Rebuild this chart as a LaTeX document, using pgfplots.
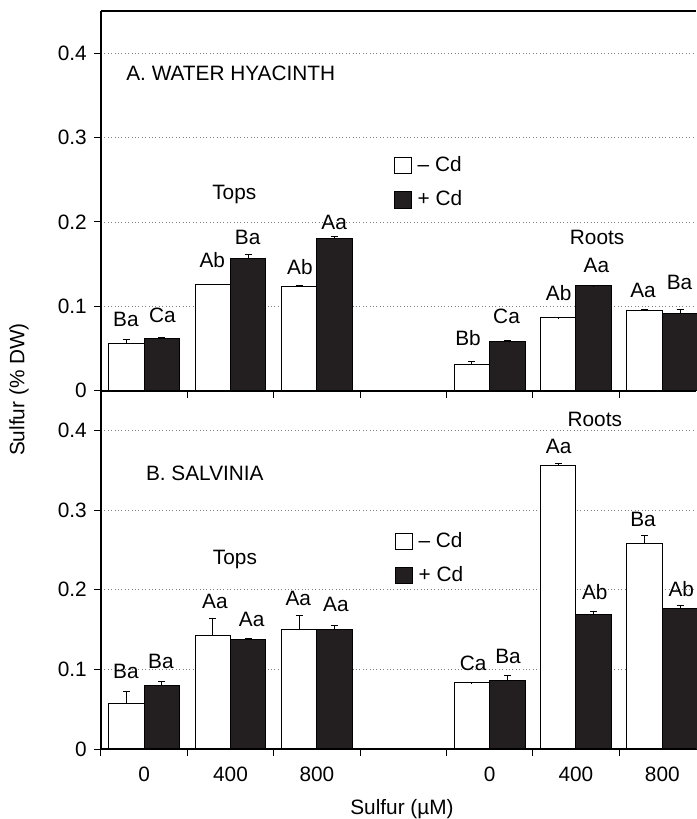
\documentclass[border=0pt]{standalone}
\usepackage{fontspec}
\setmainfont{Liberation Sans}
\usepackage{pgfplots}
\pgfplotsset{compat=1.18}
\definecolor{barblack}{HTML}{231F20}
\tikzset{lbl/.style={inner sep=0pt}}
\begin{document}
\fontsize{10.4}{12.5}\selectfont
\begin{tikzpicture}[font=\fontsize{10.4}{12.5}\selectfont]
\pgfplotsset{
 panel/.style={
  scale only axis, width=297.5pt,
  xmin=0, xmax=6.89, ymin=0, ymax=0.45,
  clip=false, axis line style={draw=none},
  tick align=outside, xtick pos=left, ytick pos=left,
  major tick length=3.5pt, tick style={black, line width=0.5pt},
  xtick={0,1,2,3,4,5,6}, xticklabels={},
  ytick={0,0.1,0.2,0.3,0.4},
  /pgf/number format/fixed, /pgf/number format/assume math mode=true,
  ymajorgrids, grid style={gray, line width=0.4pt, dash pattern=on 0.5pt off 1.2pt},
  legend style={draw=none, fill=none, inner sep=0pt, row sep=5pt,
     nodes={inner sep=1.5pt},
     /tikz/every odd column/.append style={column sep=1.5pt}},
  legend cell align=left,
 },
 wbar/.style={ybar, bar width=0.41, bar shift=0pt, fill=white, draw=black, line width=0.5pt, forget plot,
   error bars/.cd, y dir=plus, y explicit, error bar style={line width=0.5pt, black, solid},
   error mark options={rotate=90, mark size=1.75pt, line width=0.5pt, black}},
 bbar/.style={ybar, bar width=0.41, bar shift=0pt, fill=barblack, draw=black, line width=0.5pt, forget plot,
   error bars/.cd, y dir=plus, y explicit, error bar style={line width=0.5pt, black, solid},
   error mark options={rotate=90, mark size=1.75pt, line width=0.5pt, black}},
 wleg/.style={legend image code/.code={\draw[fill=white,draw=black,line width=0.5pt] (0pt,-4.15pt) rectangle (8.3pt,4.15pt);}},
 bleg/.style={legend image code/.code={\draw[fill=barblack,draw=black,line width=0.5pt] (0pt,-4.15pt) rectangle (8.3pt,4.15pt);}},
}
% ---------------- Panel A ----------------
\begin{axis}[panel, height=189.85pt, at={(50.5pt,-195.35pt)}, anchor=south west,
  legend style={at={(axis cs:3.39,0.2816)}, anchor=north west}]
\addplot[wbar] table[x index=0, y index=1, y error index=2] {
0.295 0.0562 0.0040
1.295 0.1254 0.0006
2.295 0.1238 0.0012
4.295 0.0305 0.0045
5.295 0.0862 0.0004
6.295 0.0949 0.0016
};
\addplot[bbar] table[x index=0, y index=1, y error index=2] {
0.705 0.0620 0.0010
1.705 0.1570 0.0040
2.705 0.1800 0.0030
4.705 0.0578 0.0012
5.705 0.1242 0.0004
6.705 0.0910 0.0055
};
\addlegendimage{wleg}\addlegendentry{– Cd}
\addlegendimage{bleg}\addlegendentry{+ Cd}
\node[lbl, anchor=west] at (axis cs:0.289,0.3757) {A. WATER HYACINTH};
\node[lbl] at (axis cs:1.543,0.232) {Tops};
\node[lbl] at (axis cs:5.745,0.182) {Roots};
\node[lbl] at (axis cs:0.289,0.0839) {Ba};
\node[lbl] at (axis cs:0.710,0.0898) {Ca};
\node[lbl] at (axis cs:1.288,0.155) {Ab};
\node[lbl] at (axis cs:1.698,0.182) {Ba};
\node[lbl] at (axis cs:2.303,0.147) {Ab};
\node[lbl] at (axis cs:2.700,0.1998) {Aa};
\node[lbl] at (axis cs:4.250,0.0621) {Bb};
\node[lbl] at (axis cs:4.696,0.0878) {Ca};
\node[lbl] at (axis cs:5.300,0.1155) {Ab};
\node[lbl] at (axis cs:5.737,0.148) {Aa};
\node[lbl] at (axis cs:6.277,0.1186) {Aa};
\node[lbl] at (axis cs:6.700,0.128) {Ba};
\draw[line width=0.7pt] (rel axis cs:0,0) -- (rel axis cs:0,1);
\draw[line width=0.6pt] (rel axis cs:0,1) -- (rel axis cs:1,1);
\draw[line width=1pt] (rel axis cs:0,0) -- (rel axis cs:1,0);
\end{axis}
% ---------------- Panel B ----------------
\begin{axis}[panel, height=179.15pt, at={(50.5pt,-374.5pt)}, anchor=south west,
  legend style={at={(axis cs:3.40,0.2764)}, anchor=north west},
  extra x ticks={0.5,1.5,2.5,4.5,5.5,6.5},
  extra x tick labels={0,400,800,0,400,800},
  extra x tick style={tick style={draw=none}, grid=none, xticklabel style={yshift=-2pt}}]
\addplot[wbar] table[x index=0, y index=1, y error index=2] {
0.295 0.0575 0.0142
1.295 0.1420 0.0220
2.295 0.1500 0.0180
4.295 0.0830 0.0005
5.295 0.3564 0.0020
6.295 0.2587 0.0093
};
\addplot[bbar] table[x index=0, y index=1, y error index=2] {
0.705 0.0800 0.0047
1.705 0.1380 0.0013
2.705 0.1505 0.0045
4.705 0.0864 0.0056
5.705 0.1694 0.0029
6.705 0.1760 0.0042
};
\addlegendimage{wleg}\addlegendentry{– Cd}
\addlegendimage{bleg}\addlegendentry{+ Cd}
\node[lbl, anchor=west] at (axis cs:0.517,0.3468) {B. SALVINIA};
\node[lbl] at (axis cs:1.551,0.2377) {Tops};
\node[lbl] at (axis cs:5.718,0.4138) {Roots};
\node[lbl] at (axis cs:0.289,0.0972) {Ba};
\node[lbl] at (axis cs:0.694,0.1098) {Ba};
\node[lbl] at (axis cs:1.319,0.1853) {Aa};
\node[lbl] at (axis cs:1.744,0.1623) {Aa};
\node[lbl] at (axis cs:2.284,0.1887) {Aa};
\node[lbl] at (axis cs:2.720,0.1811) {Aa};
\node[lbl] at (axis cs:4.310,0.1078) {Ca};
\node[lbl] at (axis cs:4.714,0.1160) {Ba};
\node[lbl] at (axis cs:5.300,0.3800) {Aa};
\node[lbl] at (axis cs:5.718,0.1966) {Ab};
\node[lbl] at (axis cs:6.277,0.2880) {Ba};
\node[lbl] at (axis cs:6.720,0.2009) {Ab};
\draw[line width=0.7pt] (rel axis cs:0,0) -- (rel axis cs:0,1);
\draw[line width=1pt] (rel axis cs:0,0) -- (rel axis cs:1,0);
\end{axis}
\node[rotate=90] at (9.5pt,-194.75pt) {Sulfur (\% DW)};
\node at (201pt,-404.5pt) {Sulfur (µM)};
\pgfresetboundingbox
\path[use as bounding box] (0pt,0pt) rectangle (348pt,-409.5pt);
\end{tikzpicture}
\end{document}
